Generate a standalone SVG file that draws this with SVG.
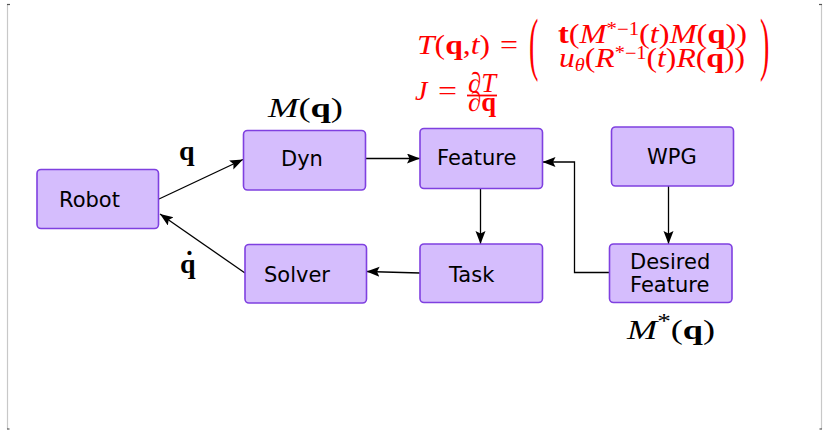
<svg xmlns="http://www.w3.org/2000/svg" width="823" height="430" viewBox="0 0 823 430">
  <style>
    .box { fill: #d5bdfd; stroke: #7f40e0; stroke-width: 1.6; }
    .lbl { font-family: "DejaVu Sans", sans-serif; font-size: 21px; fill: #000; }
    .math { font-family: "Liberation Serif", "Times New Roman", serif; font-size: 28px; }
    .red { fill: #ff0000; }
    .it { font-style: italic; }
    .bf { font-weight: bold; }
    .edge { fill: none; stroke: #000; stroke-width: 1.3; }
    .frame { stroke: #c8c8c8; stroke-width: 1.2; fill: none; }
    .tick { stroke: #555; stroke-width: 1.2; fill: none; }
  </style>
  <defs>
    <marker id="arrow" markerUnits="userSpaceOnUse" markerWidth="14" markerHeight="11" refX="13" refY="5" orient="auto">
      <path d="M0,0 L13,5 L0,10 L2.5,5 z" fill="#000"/>
    </marker>
  </defs>

  <rect width="823" height="430" fill="#fff"/>

  <!-- page frame -->
  <g id="frame">
    <line class="frame" x1="7.5" y1="4" x2="7.5" y2="429"/>
    <line class="frame" x1="821.5" y1="4" x2="821.5" y2="429"/>
    <line class="tick" x1="7" y1="4.5" x2="10" y2="4.5"/>
    <line class="tick" x1="819" y1="4.5" x2="822" y2="4.5"/>
    <line class="tick" x1="7" y1="429" x2="9.5" y2="429"/>
    <line class="tick" x1="819.5" y1="429" x2="822" y2="429"/>
  </g>

  <!-- connectors -->
  <g id="connectors">
    <line class="edge" x1="159" y1="199" x2="243" y2="159.5" marker-end="url(#arrow)"/>
    <line class="edge" x1="245" y1="273" x2="160" y2="214" marker-end="url(#arrow)"/>
    <line class="edge" x1="366" y1="158.5" x2="420" y2="158.5" marker-end="url(#arrow)"/>
    <line class="edge" x1="480.5" y1="188.5" x2="480.5" y2="244" marker-end="url(#arrow)"/>
    <line class="edge" x1="420" y1="273" x2="366.5" y2="271.5" marker-end="url(#arrow)"/>
    <path class="edge" d="M609.5,272.5 H574.5 V162 H542.5" marker-end="url(#arrow)"/>
    <line class="edge" x1="668.5" y1="186" x2="668.5" y2="244" marker-end="url(#arrow)"/>
  </g>

  <!-- nodes -->
  <g id="robot">
    <rect class="box" x="37" y="169.5" width="121.5" height="59" rx="4"/>
    <text class="lbl" x="59" y="207">Robot</text>
  </g>
  <g id="dyn">
    <rect class="box" x="243.5" y="130.5" width="122" height="59.5" rx="4"/>
    <text class="lbl" x="281" y="166">Dyn</text>
  </g>
  <g id="feature">
    <rect class="box" x="420" y="128.5" width="122.5" height="60" rx="4"/>
    <text class="lbl" x="437" y="165">Feature</text>
  </g>
  <g id="wpg">
    <rect class="box" x="611.5" y="127" width="122" height="59" rx="4"/>
    <text class="lbl" x="647" y="164">WPG</text>
  </g>
  <g id="solver">
    <rect class="box" x="245" y="244.5" width="121.5" height="58.5" rx="4"/>
    <text class="lbl" x="264" y="282">Solver</text>
  </g>
  <g id="task">
    <rect class="box" x="420" y="244" width="122.5" height="58.5" rx="4"/>
    <text class="lbl" x="449" y="282">Task</text>
  </g>
  <g id="desired-feature">
    <rect class="box" x="609.5" y="244" width="122.5" height="58.5" rx="4"/>
    <text class="lbl" x="630" y="269">Desired</text>
    <text class="lbl" x="630" y="292">Feature</text>
  </g>

  <!-- edge and node annotations -->
  <g id="annotations">
    <text class="math" x="268" y="117" font-size="30" textLength="75" lengthAdjust="spacingAndGlyphs"><tspan class="it">M</tspan>(<tspan class="bf">q</tspan>)</text>
    <text class="math bf" x="179" y="160" font-size="31">q</text>
    <text class="math bf" x="180" y="273" font-size="31">q</text>
    <text class="math bf" x="189.5" y="270" font-size="31" text-anchor="middle">˙</text>
    <text class="math" x="627" y="339" font-size="30" textLength="88" lengthAdjust="spacingAndGlyphs"><tspan class="it">M</tspan><tspan dy="-11" font-size="21">*</tspan><tspan dy="11">(</tspan><tspan class="bf">q</tspan>)</text>
  </g>

  <!-- task function and Jacobian -->
  <g id="formula" class="red">
    <text class="math" x="417" y="53.5" textLength="73" lengthAdjust="spacingAndGlyphs"><tspan class="it">T</tspan>(<tspan class="bf">q</tspan>,<tspan class="it">t</tspan>)</text>
    <text class="math" x="500" y="53.5" textLength="18" lengthAdjust="spacingAndGlyphs">=</text>
    <text class="math" transform="translate(529,67) scale(1,2.5)" font-size="42">(</text>
    <text class="math" x="558" y="43" textLength="189" lengthAdjust="spacingAndGlyphs"><tspan class="bf">t</tspan>(<tspan class="it">M</tspan><tspan dy="-8" font-size="18">*−1</tspan><tspan dy="8">(</tspan><tspan class="it">t</tspan>)<tspan class="it">M</tspan>(<tspan class="bf">q</tspan>))</text>
    <text class="math" x="559" y="67" textLength="186" lengthAdjust="spacingAndGlyphs"><tspan class="it">u</tspan><tspan class="it" dy="4" font-size="18">θ</tspan><tspan dy="-4">(</tspan><tspan class="it">R</tspan><tspan dy="-8" font-size="18">*−1</tspan><tspan dy="8">(</tspan><tspan class="it">t</tspan>)<tspan class="it">R</tspan>(<tspan class="bf">q</tspan>))</text>
    <text class="math" transform="translate(760,67) scale(1,2.5)" font-size="42">)</text>
    <text class="math it" x="415" y="100">J</text>
    <text class="math" x="438" y="100" textLength="19" lengthAdjust="spacingAndGlyphs">=</text>
    <text class="math" x="468" y="92" font-size="16" textLength="28" lengthAdjust="spacingAndGlyphs"><tspan class="it">∂T</tspan></text>
    <line x1="467" y1="95.5" x2="497" y2="95.5" stroke="#ff0000" stroke-width="1.8"/>
    <text class="math" x="468" y="111" font-size="16" textLength="28" lengthAdjust="spacingAndGlyphs"><tspan class="it">∂</tspan><tspan class="bf">q</tspan></text>
  </g>
</svg>
